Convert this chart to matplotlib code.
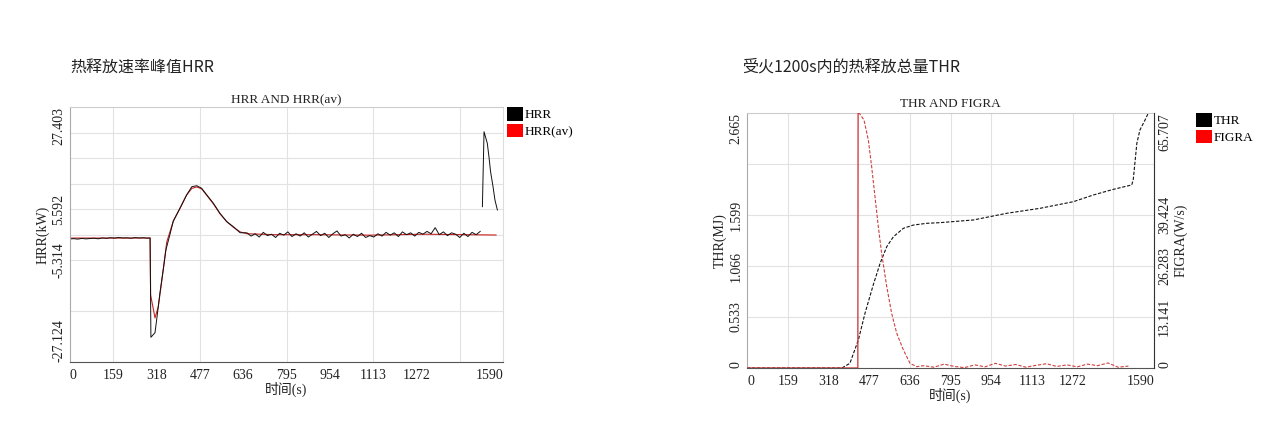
import matplotlib
matplotlib.use('Agg')
import matplotlib.pyplot as plt
from matplotlib.patches import Patch
import numpy as np

plt.rcParams['font.family'] = ['Liberation Serif', 'Noto Sans CJK SC']

# ---- データ（左：HRR）----
hrr_t = [0, 15, 30, 45, 60, 75, 90, 105, 120, 135, 150, 165, 180, 195, 210, 225, 240, 255,
         270, 285, 295, 298, 313, 319, 325, 331, 343, 353, 368, 380, 405, 429, 448, 466,
         484, 503, 527, 551, 576, 600, 625,
         650, 665, 680, 695, 710, 725, 740, 755, 770, 785, 800, 815, 830, 845, 860, 875,
         890, 905, 920, 935, 950, 965, 980, 995, 1010, 1025, 1040, 1055, 1070, 1085, 1100,
         1115, 1130, 1145, 1160, 1175, 1190, 1205, 1220, 1235, 1250, 1265, 1280, 1295, 1310,
         1325, 1340, 1355, 1370, 1385, 1400, 1415, 1430, 1445, 1460, 1475, 1490, 1505,
         1509, 1513, 1519, 1531, 1537, 1543, 1552, 1559, 1568]
hrr_kw = [-0.82, -0.75, -0.85, -0.7, -0.8, -0.72, -0.66, -0.78, -0.6, -0.68, -0.55, -0.63,
          -0.5, -0.6, -0.57, -0.66, -0.52, -0.6, -0.55, -0.64, -0.6, -21.84, -20.86, -18.14,
          -15.30, -12.43, -7.45, -3.17, 0.2, 3.0, 5.8, 8.6, 10.36, 10.57, 10.02, 8.59, 6.81,
          4.67, 2.88, 1.81, 0.52,
          0.5, -0.2, 0.3, -0.4, 0.6, -0.1, 0.2, -0.5, 0.4, 0.0, 0.7, -0.3, 0.3, -0.2, 0.5,
          -0.4, 0.2, 0.8, -0.1, 0.4, -0.5, 0.3, 0.9, -0.2, 0.1, -0.6, 0.2, -0.3, 0.4, -0.5,
          -0.1, -0.4, 0.3, -0.2, 0.6, 0.0, 0.5, -0.3, 0.7, 0.1, 0.5, -0.2, 0.6, 0.2, 0.8,
          0.3, 1.6, 0.1, 0.7, -0.1, 0.5, 0.2, -0.5, 0.4, -0.3, 0.6, 0.1, 0.8,
          np.nan, 6.08, 22.12, 19.64, 16.78, 13.57, 10.36, 7.52, 5.38]

hrr_av_t = [0, 295, 297, 313, 325, 343, 356, 380, 405, 429, 448, 466, 484, 503, 527, 551,
            576, 600, 625, 650, 750, 900, 1100, 1300, 1450, 1563]
hrr_av_kw = [-0.62, -0.62, -12.8, -17.7, -15.3, -7.5, -1.5, 3.0, 5.8, 8.6, 10.0, 10.3, 9.9,
             8.5, 6.7, 4.6, 2.9, 1.7, 0.7, 0.3, 0.1, 0.1, 0.0, 0.2, 0.1, 0.03]

# ---- データ（右：THR / FIGRA）----
thr_t = [0, 371, 402, 435, 461, 493, 520, 546, 572, 611, 650, 702, 754, 884, 1015, 1145,
         1275, 1353, 1431, 1503, 1509, 1523, 1535, 1555, 1568]
thr_mj = [0, 0, 0.049, 0.293, 0.572, 0.867, 1.094, 1.268, 1.372, 1.460, 1.494, 1.512, 1.519,
          1.547, 1.617, 1.669, 1.738, 1.808, 1.867, 1.913, 1.97, 2.348, 2.487, 2.592, 2.665]

figra_t = [0, 433, 434, 441, 457, 474, 487, 500, 513, 526, 546, 565, 585, 611, 637, 663,
           690, 730, 770, 810, 850, 890, 930, 970, 1010, 1050, 1090, 1130, 1170, 1210, 1250,
           1290, 1330, 1370, 1410, 1450, 1490]
figra_ws = [0, 0, 65.707, 65.45, 63.9, 58.75, 51.87, 44.14, 36.41, 29.55, 20.95, 14.09,
            8.94, 4.64, 1.20, 0.34, 0.6, 0.2, 1.0, 0.4, 0.1, 0.8, 0.3, 1.2, 0.5, 0.9, 0.2,
            0.7, 1.1, 0.4, 0.8, 0.3, 1.0, 0.6, 1.3, 0.2, 0.5]

x_ticks = [0, 159, 318, 477, 636, 795, 954, 1113, 1272, 1590]
hrr_ticks = [27.403, 5.592, -5.314, -27.124]
thr_ticks = [0, 0.533, 1.066, 1.599, 2.665]
thr_labels = ['0', '0.533', '1.066', '1.599', '2.665']
figra_ticks = [0, 13.141, 26.283, 39.424, 65.707]
figra_labels = ['0', '13.141', '26.283', '39.424', '65.707']

W, H = 1280, 434
fig = plt.figure(figsize=(W / 100, H / 100), dpi=100)
ax1 = fig.add_axes([69.6 / W, 1 - 362 / H, 433.8 / W, 255 / H])
ax2 = fig.add_axes([747 / W, 1 - 368 / H, 407 / W, 255 / H])
ax3 = ax2.twinx()

grid_c = '#e2e2e2'
txt_c = '#222222'


def style(ax, xgrid, ygrid):
    ax.set_xlim(0, 1590)
    ax.set_xticks(x_ticks)
    ax.set_xticklabels([str(v) for v in x_ticks])
    labs = ax.get_xticklabels()
    labs[0].set_ha('left')
    labs[-1].set_ha('right')
    # グリッド線は主目盛りと重なっても消さない
    for g in xgrid:
        ax.axvline(g, color=grid_c, linewidth=0.8, zorder=0)
    for g in ygrid:
        ax.axhline(g, color=grid_c, linewidth=0.8, zorder=0)
    ax.tick_params(which='both', length=0, labelsize=10, colors=txt_c)
    ax.tick_params(axis='x', pad=5)
    ax.tick_params(axis='y', pad=3)
    ax.spines['top'].set_color('#cccccc')
    ax.spines['right'].set_color('#dddddd')
    ax.spines['left'].set_color('#aaaaaa')
    ax.spines['bottom'].set_color('#555555')
    ax.set_xlabel('时间(s)', fontsize=10, color=txt_c, labelpad=0)


def rot_ylabels(ax, first_va, last_va):
    labs = ax.get_yticklabels()
    for lab in labs:
        lab.set_rotation(90)
        lab.set_va('center')
    labs[0].set_va(first_va)
    labs[-1].set_va(last_va)


def square_legend(ax, names, x):
    ax.legend(handles=[Patch(facecolor='black', edgecolor='none'),
                       Patch(facecolor='#ff0000', edgecolor='none')],
              labels=names, loc='upper left', bbox_to_anchor=(x, 1.0),
              frameon=False, borderaxespad=0, borderpad=0, handlelength=1.2,
              handleheight=1.2, handletextpad=0.15, labelspacing=0.2, fontsize=9.5)


# 左グラフ
ax1.plot(hrr_av_t, hrr_av_kw, color='#cc2020', linewidth=0.8)
ax1.plot(hrr_t, hrr_kw, color='#111111', linewidth=0.7)
ax1.set_ylim(-27.124, 27.403)
ygrid1 = np.linspace(27.403, -27.124, 11)[[1, 2, 3, 4, 5, 6, 8]]
style(ax1, [159, 477, 795, 1113, 1431], ygrid1)
ax1.set_yticks(hrr_ticks)
ax1.set_yticklabels([f'{v:.3f}' for v in hrr_ticks])
rot_ylabels(ax1, 'top', 'bottom')
ax1.set_ylabel('HRR(kW)', fontsize=10, color=txt_c, labelpad=2)
ax1.set_title('HRR AND HRR(av)', fontsize=9.5, color=txt_c, pad=3)
square_legend(ax1, ['HRR', 'HRR(av)'], 1.008)

# 右グラフ
ax2.plot(thr_t, thr_mj, color='#111111', linewidth=0.8, linestyle=(0, (3, 1.5)))
ax2.set_ylim(0, 2.665)
ygrid2 = np.linspace(0, 2.665, 6)[1:5]
style(ax2, [159, 636, 795, 954, 1272, 1431], ygrid2)
ax2.set_yticks(thr_ticks)
ax2.set_yticklabels(thr_labels)
rot_ylabels(ax2, 'bottom', 'top')
ax2.set_ylabel('THR(MJ)', fontsize=10, color=txt_c, labelpad=2)
ax2.set_title('THR AND FIGRA', fontsize=9.5, color=txt_c, pad=4)

ax3.plot(figra_t[:3], figra_ws[:3], color='#c83030', linewidth=0.9)
ax3.plot(figra_t[2:], figra_ws[2:], color='#d04040', linewidth=0.8, linestyle=(0, (3, 1.5)))
ax3.set_ylim(0, 65.707)
ax3.set_yticks(figra_ticks)
ax3.set_yticklabels(figra_labels)
ax3.tick_params(length=0, labelsize=10, colors=txt_c, pad=3)
rot_ylabels(ax3, 'bottom', 'top')
ax3.set_ylabel('FIGRA(W/s)', fontsize=10, color=txt_c, labelpad=2)
for s in ['top', 'left', 'bottom']:
    ax3.spines[s].set_visible(False)
ax3.spines['right'].set_color('#333333')
square_legend(ax3, ['THR', 'FIGRA'], 1.103)

# 見出し
fig.text(70 / W, 1 - 67 / H, '热释放速率峰值HRR', fontsize=11.5, color='#222222',
         family=['Noto Sans CJK SC'], va='center')
fig.text(742 / W, 1 - 67 / H, '受火1200s内的热释放总量THR', fontsize=11.5, color='#222222',
         family=['Noto Sans CJK SC'], va='center')

fig.savefig('out.png', dpi=100)
